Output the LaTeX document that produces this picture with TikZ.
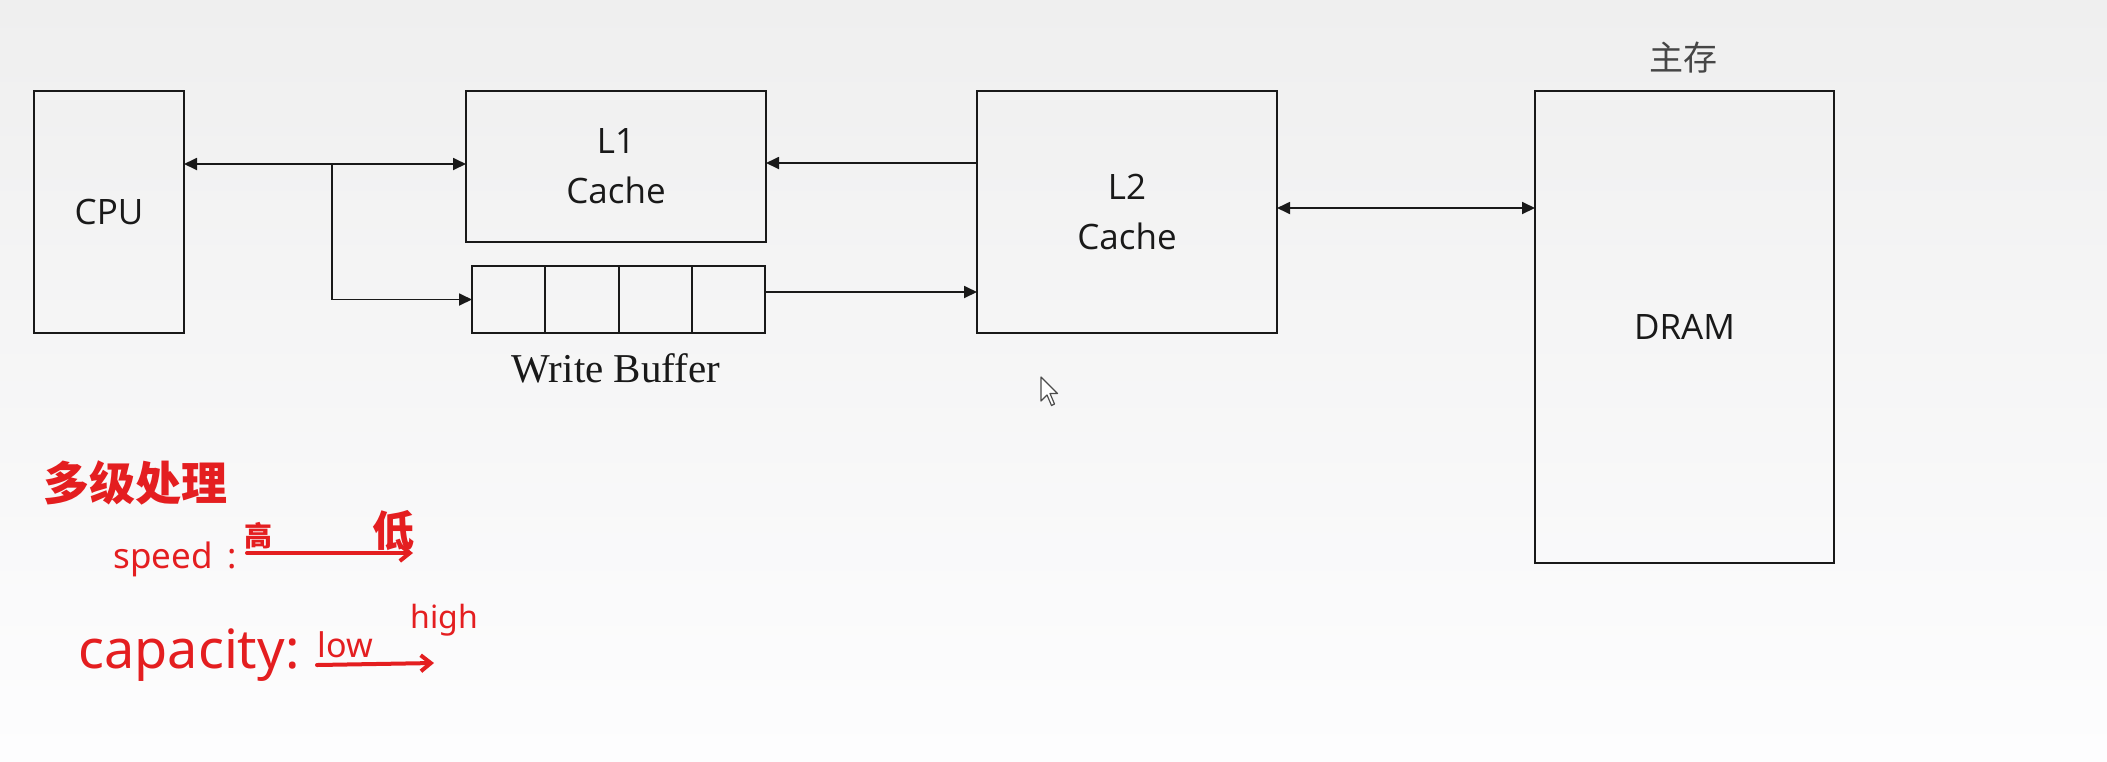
\documentclass[tikz,border=0pt]{standalone}
\usepackage{fontspec}
\setmainfont{Open Sans}
\newfontfamily\serifwb{Liberation Serif}
\newfontfamily\cjk{Noto Sans CJK SC}
\newfontfamily\hand{Noto Sans}
\usetikzlibrary{arrows.meta,calc}
\definecolor{bgtop}{RGB}{239,239,239}
\definecolor{bgbot}{RGB}{253,253,254}
\definecolor{ink}{RGB}{25,25,25}
\definecolor{hw}{RGB}{228,30,32}
\definecolor{zcgray}{RGB}{70,70,70}
\begin{document}
\begin{tikzpicture}[x=0.5pt,y=-0.5pt,
  box/.style={draw=ink,line width=1pt,inner sep=0pt,outer sep=0pt,align=center,
    text=ink,font=\fontsize{17.5}{25}\selectfont},
  arr/.style={draw=ink,line width=0.9pt,>={Triangle[length=6.5pt,width=6pt]}},
  hwtext/.style={text=hw,inner sep=0pt},
  hwline/.style={draw=hw,line width=2pt,line cap=round,line join=round}]
\useasboundingbox (0,0) rectangle (2107,761);
\shade[top color=bgtop,bottom color=bgbot] (0,0) rectangle (2107,761);

% boxes
\node[box,minimum width=75pt,minimum height=121pt] (cpu) at (109,212) {CPU};
\node[box,minimum width=150pt,minimum height=75.5pt] (l1) at (616,166.5) {L1\\Cache};
\node[box,minimum width=146.5pt,minimum height=33.5pt] (wb) at (618.5,299.5) {};
\foreach \f in {0.25,0.5,0.75}
  \draw[ink,line width=1pt] ($(wb.north west)!\f!(wb.north east)$) -- ($(wb.south west)!\f!(wb.south east)$);
\node[box,minimum width=150pt,minimum height=121pt] (l2) at (1127,212) {L2\\Cache};
\node[box,minimum width=149.5pt,minimum height=236pt] (dram) at (1684.5,327) {DRAM};

\node[anchor=base,inner sep=0pt,text=ink,font=\serifwb\fontsize{20.5}{24}\selectfont] (wbl) at (616,382) {Write Buffer};
\node[inner sep=0pt,text=zcgray,font=\cjk\fontsize{17}{20}\selectfont] (zc) at (1683,58) {主存};

% connectors
\coordinate (j) at (332,164);
\draw[arr,<->] (cpu.east |- j) -- (l1.west |- j);
\draw[arr,->] (j) |- (wb.west);
\coordinate (m) at (870,163);
\draw[arr,->] (l2.west |- m) -- (l1.east |- m);
\coordinate (k) at (870,292);
\draw[arr,->] (wb.east |- k) -- (l2.west |- k);
\coordinate (n) at (1400,208);
\draw[arr,<->] (l2.east |- n) -- (dram.west |- n);

% cursor
\draw[fill=white,draw=black!70,line width=0.6pt,line join=round]
  (1041,377) -- (1041,401) -- (1047,395) -- (1051.5,405.5) -- (1054.5,404) -- (1050,393.5) -- (1057.5,393.5) -- cycle;

% handwritten notes
\node[hwtext,anchor=west,font=\cjk\bfseries\fontsize{23}{26}\selectfont] (t1) at (43,483) {多级处理};
\node[hwtext,anchor=base west,font=\hand\bfseries\fontsize{17.5}{20}\selectfont] (sp) at (113,568) {speed};
\node[hwtext,anchor=base west,font=\hand\bfseries\fontsize{17.5}{20}\selectfont] (c1) at (227,568) {:};
\node[hwtext,font=\cjk\bfseries\fontsize{14}{16}\selectfont] (gao) at (258,536) {高};
\node[hwtext,font=\cjk\bfseries\fontsize{21}{24}\selectfont] (di) at (393,531) {低};
\coordinate (s1) at (247,553);
\coordinate (s2) at (413,553);
\draw[hwline,-{Straight Barb[length=5pt,width=8pt]}] (s1) -- (s2);

\node[hwtext,anchor=base west,font=\hand\bfseries\fontsize{27}{30}\selectfont] (cap) at (78,668) {capacity:};
\node[hwtext,anchor=base west,font=\hand\bfseries\fontsize{17}{20}\selectfont] (low) at (317,657) {low};
\node[hwtext,anchor=base west,font=\hand\bfseries\fontsize{16}{20}\selectfont] (high) at (410,628) {high};
\coordinate (c2a) at (317,665);
\coordinate (c2b) at (434,663);
\draw[hwline,-{Straight Barb[length=5pt,width=8pt]}] (c2a) -- (c2b);
\end{tikzpicture}
\end{document}
